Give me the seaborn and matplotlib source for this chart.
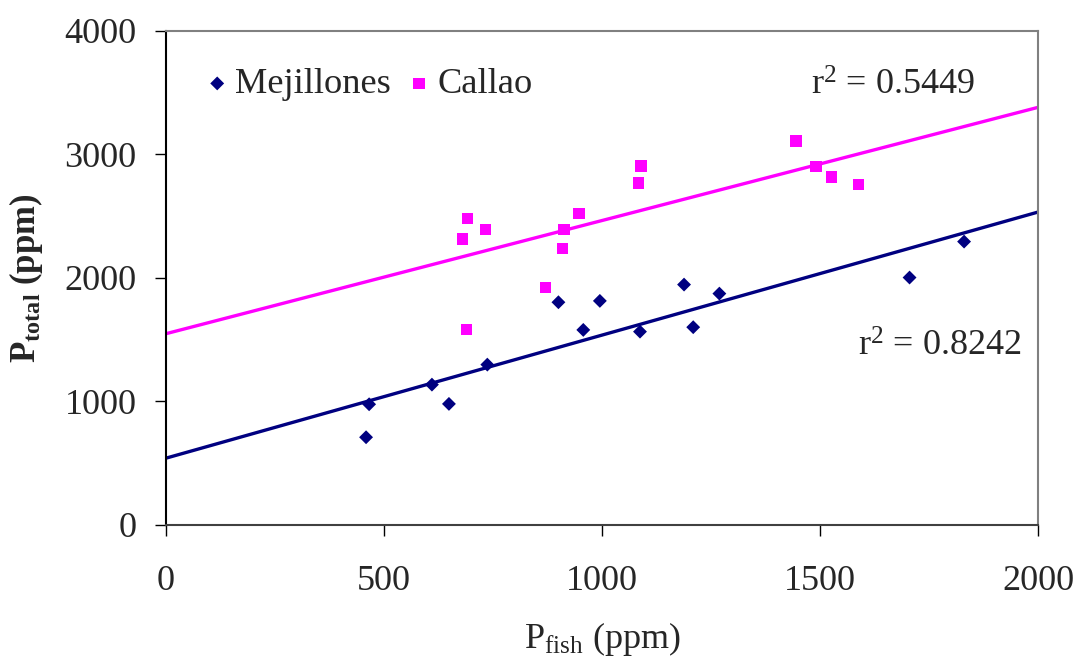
import numpy as np
import pandas as pd
import matplotlib
matplotlib.use("Agg")
import matplotlib.pyplot as plt
import seaborn as sns

# Data
mej_x = [459, 466, 610, 649, 737, 900, 957, 995, 1087, 1188, 1209, 1269, 1705, 1830]
mej_y = [710, 977, 1136, 980, 1298, 1803, 1579, 1814, 1565, 1946, 1601, 1873, 2003, 2294]
cal_x = [680, 689, 691, 733, 870, 909, 913, 947, 1084, 1089, 1445, 1490, 1526, 1588]
cal_y = [2316, 1582, 2483, 2391, 1924, 2237, 2391, 2521, 2767, 2907, 3109, 2904, 2818, 2755]
series = ["Mejillones", "Callao"]
r2_labels = ["r$^2$ = 0.8242", "r$^2$ = 0.5449"]
xticks = [0, 500, 1000, 1500, 2000]
yticks = [0, 1000, 2000, 3000, 4000]

mej = pd.DataFrame({"x": mej_x, "y": mej_y})
cal = pd.DataFrame({"x": cal_x, "y": cal_y})

sns.set_style("white")
plt.rcParams["font.family"] = ["Liberation Serif", "DejaVu Serif"]
plt.rcParams["mathtext.fontset"] = "custom"
plt.rcParams["mathtext.rm"] = "Liberation Serif"
plt.rcParams["mathtext.it"] = "Liberation Serif:italic"
plt.rcParams["mathtext.bf"] = "Liberation Serif:bold"

c_mej = "#000080"
c_cal = "#FF00FF"

fig = plt.figure(figsize=(10.77, 6.57), dpi=100)
ax = fig.add_axes([0.154, 0.201, 0.81, 0.752])
ax.set_xlim(0, 2000)
ax.set_ylim(0, 4000)

sns.regplot(data=mej, x="x", y="y", ax=ax, scatter=False, ci=None,
            truncate=False, color=c_mej, line_kws={"lw": 2.4})
sns.regplot(data=cal, x="x", y="y", ax=ax, scatter=False, ci=None,
            truncate=False, color=c_cal, line_kws={"lw": 2.4})

sns.scatterplot(data=mej, x="x", y="y", ax=ax, marker="D", s=50, color=c_mej,
                edgecolor="none", linewidth=0, zorder=5, label=series[0])
sns.scatterplot(data=cal, x="x", y="y", ax=ax, marker="s", s=68, color=c_cal,
                edgecolor="none", linewidth=0, zorder=5, label=series[1])
ax.set_xlim(0, 2000)
ax.set_ylim(0, 4000)

# legend
handles, labels = ax.get_legend_handles_labels()
ax.legend(handles=handles, labels=labels, loc="center left", ncol=2, frameon=False,
          fontsize=26.2, handletextpad=0.0, handlelength=1.0, columnspacing=0.26,
          borderpad=0, borderaxespad=0, bbox_to_anchor=(0.038, 0.892))

ax.text(1855, 3555, r2_labels[1], fontsize=26, ha="right", va="center")
ax.text(1962, 1440, r2_labels[0], fontsize=26, ha="right", va="center")

ax.set_xticks(xticks)
ax.set_yticks(yticks)
ax.set_xticklabels([str(t) for t in xticks])
ax.set_yticklabels([str(t) for t in yticks])
ax.tick_params(axis="both", labelsize=26, direction="out", length=8, width=1,
               color="black", bottom=True, left=True)
ax.tick_params(axis="x", pad=21)
ax.tick_params(axis="y", pad=13)

for side in ["top", "right"]:
    ax.spines[side].set_color("#808080")
    ax.spines[side].set_linewidth(1.5)
ax.spines["left"].set_color("black")
ax.spines["bottom"].set_color("#404040")
for side in ["left", "bottom"]:
    ax.spines[side].set_linewidth(1.5)

ax.set_xlabel(r"P$_{\mathrm{fish}}$ (ppm)", fontsize=26, labelpad=16)
ax.set_ylabel(r"$\mathbf{P_{total}}$ (ppm)", fontsize=25, fontweight="bold", labelpad=14)

fig.savefig("out.png", dpi=100, facecolor="white")
